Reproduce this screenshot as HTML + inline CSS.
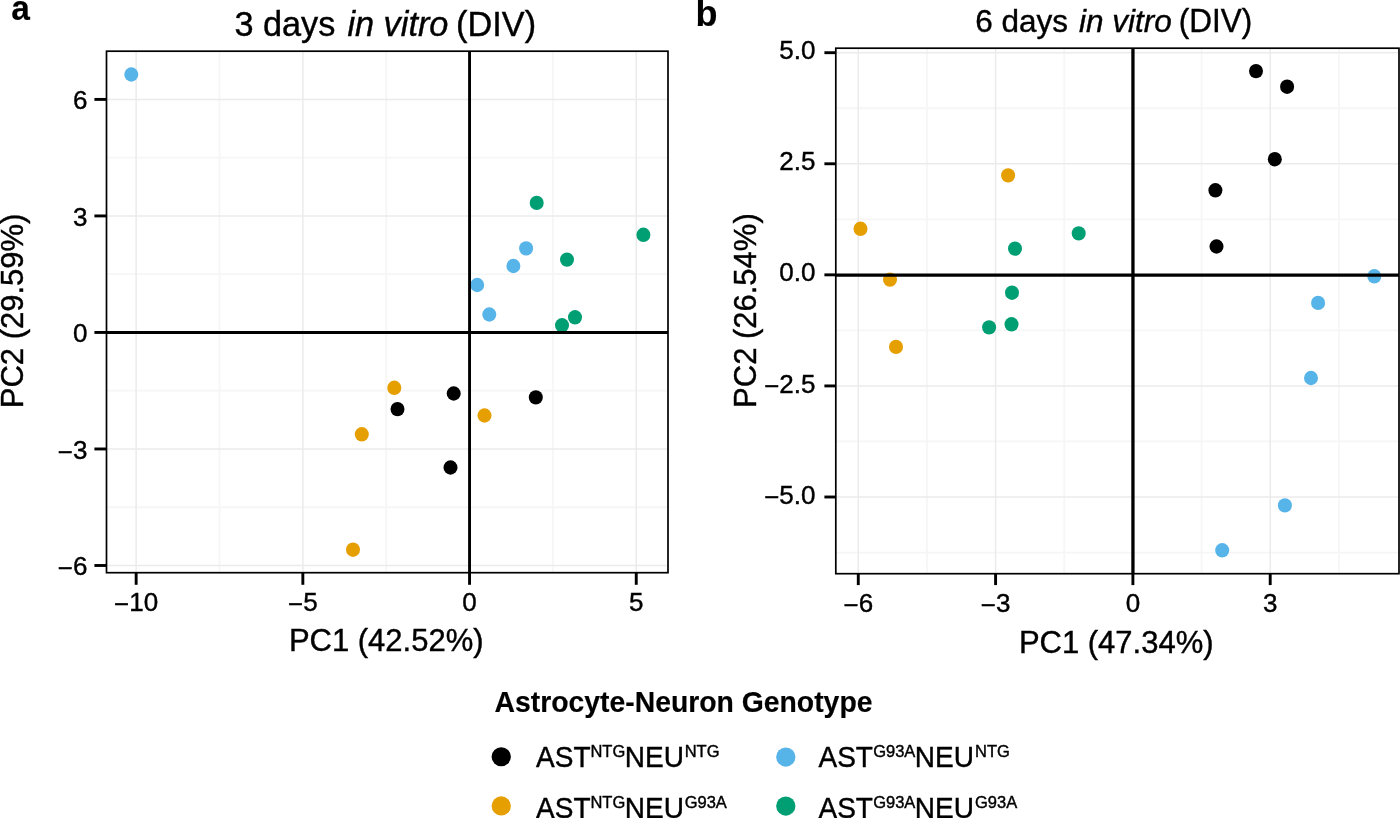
<!DOCTYPE html>
<html><head><meta charset="utf-8"><style>
html,body{margin:0;padding:0;background:#fff;overflow:hidden;}
svg{display:block;will-change:transform;font-family:"Liberation Sans",sans-serif;}
text{fill:#000;stroke:#000;stroke-width:0.4;}
text[font-weight=bold]{stroke-width:0.15;}
.mn{stroke:#f6f6f6;stroke-width:1.8;}
.mj{stroke:#ebebeb;stroke-width:1.5;}
.zl{stroke:#000;}
.bd{fill:none;stroke:#000;stroke-width:1.7;}
.tk{stroke:#000;stroke-width:2.9;}
</style></head><body>
<svg width="1400" height="818" viewBox="0 0 1400 818">
<rect width="1400" height="818" fill="#fff"/>
<line x1="219.50" y1="51.2" x2="219.50" y2="572.7" class="mn"/>
<line x1="386.20" y1="51.2" x2="386.20" y2="572.7" class="mn"/>
<line x1="552.90" y1="51.2" x2="552.90" y2="572.7" class="mn"/>
<line x1="106.5" y1="507.23" x2="668.0" y2="507.23" class="mn"/>
<line x1="106.5" y1="390.71" x2="668.0" y2="390.71" class="mn"/>
<line x1="106.5" y1="274.19" x2="668.0" y2="274.19" class="mn"/>
<line x1="106.5" y1="157.67" x2="668.0" y2="157.67" class="mn"/>
<line x1="136.15" y1="51.2" x2="136.15" y2="572.7" class="mj"/>
<line x1="302.85" y1="51.2" x2="302.85" y2="572.7" class="mj"/>
<line x1="469.55" y1="51.2" x2="469.55" y2="572.7" class="mj"/>
<line x1="636.25" y1="51.2" x2="636.25" y2="572.7" class="mj"/>
<line x1="106.5" y1="565.49" x2="668.0" y2="565.49" class="mj"/>
<line x1="106.5" y1="448.97" x2="668.0" y2="448.97" class="mj"/>
<line x1="106.5" y1="332.45" x2="668.0" y2="332.45" class="mj"/>
<line x1="106.5" y1="215.93" x2="668.0" y2="215.93" class="mj"/>
<line x1="106.5" y1="99.41" x2="668.0" y2="99.41" class="mj"/>
<ellipse cx="131.3" cy="74.5" rx="7.0" ry="7.2" fill="#56B4E9"/>
<ellipse cx="526.1" cy="248.4" rx="7.0" ry="7.2" fill="#56B4E9"/>
<ellipse cx="513.4" cy="266" rx="7.0" ry="7.2" fill="#56B4E9"/>
<ellipse cx="477.2" cy="285" rx="7.0" ry="7.2" fill="#56B4E9"/>
<ellipse cx="489.3" cy="314.5" rx="7.0" ry="7.2" fill="#56B4E9"/>
<ellipse cx="536.7" cy="202.9" rx="7.0" ry="7.2" fill="#009E73"/>
<ellipse cx="643.4" cy="234.8" rx="7.0" ry="7.2" fill="#009E73"/>
<ellipse cx="567" cy="259.6" rx="7.0" ry="7.2" fill="#009E73"/>
<ellipse cx="575" cy="317.3" rx="7.0" ry="7.2" fill="#009E73"/>
<ellipse cx="562" cy="325.3" rx="7.0" ry="7.2" fill="#009E73"/>
<ellipse cx="394.3" cy="387.8" rx="7.0" ry="7.2" fill="#E69F00"/>
<ellipse cx="484.5" cy="415.5" rx="7.0" ry="7.2" fill="#E69F00"/>
<ellipse cx="361.8" cy="434.3" rx="7.0" ry="7.2" fill="#E69F00"/>
<ellipse cx="353" cy="549.7" rx="7.0" ry="7.2" fill="#E69F00"/>
<ellipse cx="453.7" cy="393.5" rx="7.0" ry="7.2" fill="#000000"/>
<ellipse cx="535.8" cy="397.4" rx="7.0" ry="7.2" fill="#000000"/>
<ellipse cx="397.5" cy="409.1" rx="7.0" ry="7.2" fill="#000000"/>
<ellipse cx="450.5" cy="467.5" rx="7.0" ry="7.2" fill="#000000"/>
<line x1="469.55" y1="51.2" x2="469.55" y2="572.7" class="zl" stroke-width="2.9"/>
<line x1="106.5" y1="332.45" x2="668.0" y2="332.45" class="zl" stroke-width="2.9"/>
<rect x="106.5" y="51.2" width="561.50" height="521.50" class="bd"/>
<line x1="136.15" y1="572.7" x2="136.15" y2="584.8000000000001" class="tk"/>
<text transform="translate(136.15,610.70) scale(1,1.02)" font-size="26" text-anchor="middle"><tspan dy="2">−</tspan><tspan dy="-2">10</tspan></text>
<line x1="302.85" y1="572.7" x2="302.85" y2="584.8000000000001" class="tk"/>
<text transform="translate(302.85,610.70) scale(1,1.02)" font-size="26" text-anchor="middle"><tspan dy="2">−</tspan><tspan dy="-2">5</tspan></text>
<line x1="469.55" y1="572.7" x2="469.55" y2="584.8000000000001" class="tk"/>
<text transform="translate(469.55,610.70) scale(1,1.02)" font-size="26" text-anchor="middle">0</text>
<line x1="636.25" y1="572.7" x2="636.25" y2="584.8000000000001" class="tk"/>
<text transform="translate(636.25,610.70) scale(1,1.02)" font-size="26" text-anchor="middle">5</text>
<line x1="94.4" y1="565.49" x2="106.5" y2="565.49" class="tk"/>
<text transform="translate(87.50,575.09) scale(1,1.02)" font-size="26" text-anchor="end"><tspan dy="2">−</tspan><tspan dy="-2">6</tspan></text>
<line x1="94.4" y1="448.97" x2="106.5" y2="448.97" class="tk"/>
<text transform="translate(87.50,458.57) scale(1,1.02)" font-size="26" text-anchor="end"><tspan dy="2">−</tspan><tspan dy="-2">3</tspan></text>
<line x1="94.4" y1="332.45" x2="106.5" y2="332.45" class="tk"/>
<text transform="translate(87.50,342.05) scale(1,1.02)" font-size="26" text-anchor="end">0</text>
<line x1="94.4" y1="215.93" x2="106.5" y2="215.93" class="tk"/>
<text transform="translate(87.50,225.53) scale(1,1.02)" font-size="26" text-anchor="end">3</text>
<line x1="94.4" y1="99.41" x2="106.5" y2="99.41" class="tk"/>
<text transform="translate(87.50,109.01) scale(1,1.02)" font-size="26" text-anchor="end">6</text>
<line x1="926.94" y1="48.2" x2="926.94" y2="573.7" class="mn"/>
<line x1="1064.25" y1="48.2" x2="1064.25" y2="573.7" class="mn"/>
<line x1="1201.56" y1="48.2" x2="1201.56" y2="573.7" class="mn"/>
<line x1="1338.87" y1="48.2" x2="1338.87" y2="573.7" class="mn"/>
<line x1="835.8" y1="552.54" x2="1399.0" y2="552.54" class="mn"/>
<line x1="835.8" y1="441.46" x2="1399.0" y2="441.46" class="mn"/>
<line x1="835.8" y1="330.39" x2="1399.0" y2="330.39" class="mn"/>
<line x1="835.8" y1="219.31" x2="1399.0" y2="219.31" class="mn"/>
<line x1="835.8" y1="108.24" x2="1399.0" y2="108.24" class="mn"/>
<line x1="858.28" y1="48.2" x2="858.28" y2="573.7" class="mj"/>
<line x1="995.59" y1="48.2" x2="995.59" y2="573.7" class="mj"/>
<line x1="1132.90" y1="48.2" x2="1132.90" y2="573.7" class="mj"/>
<line x1="1270.21" y1="48.2" x2="1270.21" y2="573.7" class="mj"/>
<line x1="835.8" y1="497.00" x2="1399.0" y2="497.00" class="mj"/>
<line x1="835.8" y1="385.93" x2="1399.0" y2="385.93" class="mj"/>
<line x1="835.8" y1="274.85" x2="1399.0" y2="274.85" class="mj"/>
<line x1="835.8" y1="163.78" x2="1399.0" y2="163.78" class="mj"/>
<line x1="835.8" y1="52.70" x2="1399.0" y2="52.70" class="mj"/>
<ellipse cx="1256" cy="71.1" rx="7.0" ry="7.2" fill="#000000"/>
<ellipse cx="1287.1" cy="86.7" rx="7.0" ry="7.2" fill="#000000"/>
<ellipse cx="1274.8" cy="159.2" rx="7.0" ry="7.2" fill="#000000"/>
<ellipse cx="1215.4" cy="190.3" rx="7.0" ry="7.2" fill="#000000"/>
<ellipse cx="1216.5" cy="246.5" rx="7.0" ry="7.2" fill="#000000"/>
<ellipse cx="1008.1" cy="175.4" rx="7.0" ry="7.2" fill="#E69F00"/>
<ellipse cx="860.5" cy="228.8" rx="7.0" ry="7.2" fill="#E69F00"/>
<ellipse cx="890" cy="279.6" rx="7.0" ry="7.2" fill="#E69F00"/>
<ellipse cx="896" cy="346.9" rx="7.0" ry="7.2" fill="#E69F00"/>
<ellipse cx="1078.7" cy="233.4" rx="7.0" ry="7.2" fill="#009E73"/>
<ellipse cx="1015" cy="248.6" rx="7.0" ry="7.2" fill="#009E73"/>
<ellipse cx="1012" cy="292.7" rx="7.0" ry="7.2" fill="#009E73"/>
<ellipse cx="1011.5" cy="324.3" rx="7.0" ry="7.2" fill="#009E73"/>
<ellipse cx="989.1" cy="327.4" rx="7.0" ry="7.2" fill="#009E73"/>
<ellipse cx="1374.3" cy="276.3" rx="7.0" ry="7.2" fill="#56B4E9"/>
<ellipse cx="1318.1" cy="302.9" rx="7.0" ry="7.2" fill="#56B4E9"/>
<ellipse cx="1311" cy="378" rx="7.0" ry="7.2" fill="#56B4E9"/>
<ellipse cx="1284.9" cy="505.4" rx="7.0" ry="7.2" fill="#56B4E9"/>
<ellipse cx="1222.2" cy="550.3" rx="7.0" ry="7.2" fill="#56B4E9"/>
<line x1="1132.95" y1="48.2" x2="1132.95" y2="573.7" class="zl" stroke-width="3.3"/>
<line x1="835.8" y1="275.05" x2="1399.0" y2="275.05" class="zl" stroke-width="3.3"/>
<rect x="835.8" y="48.2" width="563.20" height="525.50" class="bd"/>
<line x1="858.28" y1="573.7" x2="858.28" y2="585.1" class="tk"/>
<text transform="translate(858.28,611.70) scale(1,1.02)" font-size="26" text-anchor="middle"><tspan dy="2">−</tspan><tspan dy="-2">6</tspan></text>
<line x1="995.59" y1="573.7" x2="995.59" y2="585.1" class="tk"/>
<text transform="translate(995.59,611.70) scale(1,1.02)" font-size="26" text-anchor="middle"><tspan dy="2">−</tspan><tspan dy="-2">3</tspan></text>
<line x1="1132.90" y1="573.7" x2="1132.90" y2="585.1" class="tk"/>
<text transform="translate(1132.90,611.70) scale(1,1.02)" font-size="26" text-anchor="middle">0</text>
<line x1="1270.21" y1="573.7" x2="1270.21" y2="585.1" class="tk"/>
<text transform="translate(1270.21,611.70) scale(1,1.02)" font-size="26" text-anchor="middle">3</text>
<line x1="824.4" y1="497.00" x2="835.8" y2="497.00" class="tk"/>
<text transform="translate(815.50,503.60) scale(1,1.02)" font-size="26" text-anchor="end"><tspan dy="2">−</tspan><tspan dy="-2">5.0</tspan></text>
<line x1="824.4" y1="385.93" x2="835.8" y2="385.93" class="tk"/>
<text transform="translate(815.50,392.53) scale(1,1.02)" font-size="26" text-anchor="end"><tspan dy="2">−</tspan><tspan dy="-2">2.5</tspan></text>
<line x1="824.4" y1="274.85" x2="835.8" y2="274.85" class="tk"/>
<text transform="translate(815.50,281.45) scale(1,1.02)" font-size="26" text-anchor="end">0.0</text>
<line x1="824.4" y1="163.78" x2="835.8" y2="163.78" class="tk"/>
<text transform="translate(815.50,170.38) scale(1,1.02)" font-size="26" text-anchor="end">2.5</text>
<line x1="824.4" y1="52.70" x2="835.8" y2="52.70" class="tk"/>
<text transform="translate(815.50,59.30) scale(1,1.02)" font-size="26" text-anchor="end">5.0</text>
<text transform="translate(386.20,650.80) scale(1,1.04)" font-size="31" text-anchor="middle">PC1 (42.52%)</text>
<text transform="translate(1116.20,652.60) scale(1,1.04)" font-size="31" text-anchor="middle">PC1 (47.34%)</text>
<text transform="translate(23,310.9) rotate(-90) scale(1,1.04)" font-size="31" text-anchor="middle">PC2 (29.59%)</text>
<text transform="translate(755.8,310.6) rotate(-90) scale(1,1.04)" font-size="31" text-anchor="middle">PC2 (26.54%)</text>
<text transform="translate(234.40,35.80) scale(1,1.02)" font-size="34.3">3 days</text>
<text transform="translate(347.40,35.80) scale(1,1.0)" font-size="34.3" font-style="italic">in vitro</text>
<text transform="translate(456.10,35.80) scale(1,1.045)" font-size="34.3">(DIV)</text>
<text transform="translate(975.20,32.20) scale(1,1.01)" font-size="31.5">6 days</text>
<text transform="translate(1079.00,32.20) scale(1,1.0)" font-size="31.5" font-style="italic">in vitro</text>
<text transform="translate(1178.75,32.20) scale(1,1.045)" font-size="31.5">(DIV)</text>
<text transform="translate(11.2,19.5) scale(0.93,1)" font-size="36" font-weight="bold">a</text>
<text transform="translate(695.40,25.60) scale(1,1.0)" font-size="36" font-weight="bold">b</text>
<text transform="translate(683.50,711.70) scale(1,1.03)" font-size="28.35" text-anchor="middle" font-weight="bold">Astrocyte-Neuron Genotype</text>
<ellipse cx="501.25" cy="756.8" rx="9.65" ry="9.55" fill="#000000"/>
<ellipse cx="501.25" cy="805.9" rx="9.65" ry="9.55" fill="#E69F00"/>
<ellipse cx="785.8" cy="757.1" rx="9.65" ry="9.55" fill="#56B4E9"/>
<ellipse cx="785.8" cy="806.1" rx="9.65" ry="9.55" fill="#009E73"/>
<text transform="translate(0,767.0) scale(1,1.04)" font-size="28"><tspan x="536.05" y="0">AST</tspan><tspan x="590.45" y="-9.33" font-size="16.5">NTG</tspan><tspan x="624.8" y="0">NEU</tspan><tspan x="684.65" y="-9.33" font-size="16.5">NTG</tspan></text>
<text transform="translate(0,817.6) scale(1,1.04)" font-size="28"><tspan x="536.05" y="0">AST</tspan><tspan x="590.45" y="-9.52" font-size="16.5">NTG</tspan><tspan x="624.8" y="0">NEU</tspan><tspan x="684.65" y="-9.52" font-size="16.5">G93A</tspan></text>
<text transform="translate(0,767.0) scale(1,1.04)" font-size="28"><tspan x="818.55" y="0">AST</tspan><tspan x="873.2" y="-9.33" font-size="16.5">G93A</tspan><tspan x="914.8" y="0">NEU</tspan><tspan x="975.0" y="-9.33" font-size="16.5">NTG</tspan></text>
<text transform="translate(0,817.6) scale(1,1.04)" font-size="28"><tspan x="818.55" y="0">AST</tspan><tspan x="873.2" y="-9.52" font-size="16.5">G93A</tspan><tspan x="914.8" y="0">NEU</tspan><tspan x="975.0" y="-9.52" font-size="16.5">G93A</tspan></text>
</svg>
</body></html>
